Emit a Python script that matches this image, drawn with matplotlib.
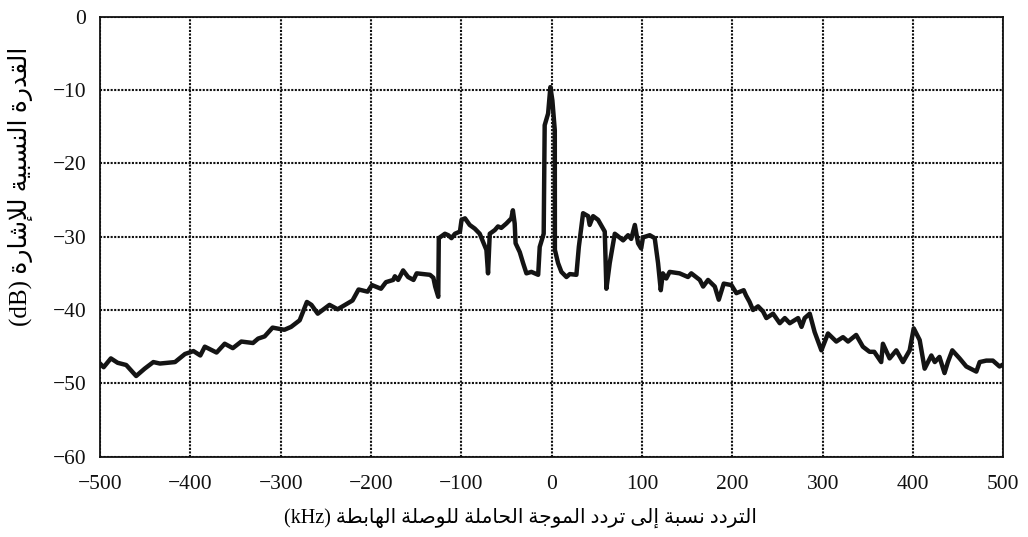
import matplotlib
matplotlib.use("Agg")
import matplotlib.pyplot as plt

# spectrum around the downlink carrier
freq_khz = [-500, -496, -488, -480.5, -471, -460, -450.6, -441, -433.7, -417, -406, -396.6,
            -389, -384, -371, -362, -353, -343.6, -330.7, -325, -317.8, -309, -296, -288.5,
            -279, -271, -266, -259, -246, -237, -220.5, -213.8, -203.8, -199, -189, -183.5,
            -175.5, -173.6, -170, -164.5, -159, -153, -149.5, -134.8, -131, -129, -125.6,
            -125, -118.2, -114.5, -111, -107.1, -101.6, -99.8, -96, -90.8, -85.2, -79.7,
            -72.3, -70.5, -68.6, -63, -59.5, -55.8, -50.2, -44.7, -43, -41, -40, -35.4,
            -31.7, -28, -22.5, -15, -13.3, -8.9, -7.8, -4, -1.5, 0.7, 3.4, 3.5, 7, 10.7,
            16.3, 20, 27.3, 30, 34.7, 40.3, 42, 45.8, 51.3, 58.7, 60.5, 64.2, 69.8, 72, 79,
            84.5, 88, 92, 95.6, 99, 101, 108.5, 114, 117.7, 120.7, 123, 126.8, 130.5, 141.5,
            150.8, 154.5, 163.9, 167.6, 173, 180.5, 184.9, 190.4, 198.9, 204.4, 212.5, 215,
            219, 222.8, 228.4, 233.9, 237.6, 245, 252.4, 258, 263.5, 272.7, 276.5, 280,
            285.6, 291, 298.5, 305.8, 315, 322.4, 328, 337, 344.4, 351.8, 357, 364.7, 366.6,
            374, 381.4, 388.8, 396.2, 400.7, 407.3, 412.8, 420.2, 424, 429.2, 434.8, 438.5,
            443.4, 451.5, 458.9, 470, 473.7, 481, 488.3, 495.7, 500]
power_db = [-47.3, -47.8, -46.6, -47.2, -47.5, -49.0, -48.0, -47.1, -47.3, -47.1, -46.0, -45.6,
            -46.2, -45.0, -45.8, -44.6, -45.2, -44.3, -44.5, -43.9, -43.6, -42.4, -42.7, -42.3,
            -41.4, -38.9, -39.3, -40.5, -39.3, -39.9, -38.7, -37.2, -37.5, -36.6, -37.1, -36.2,
            -35.9, -35.4, -35.9, -34.6, -35.5, -35.9, -35.0, -35.2, -35.6, -36.8, -38.2,
            -30.2, -29.6, -29.8, -30.2, -29.6, -29.3, -27.7, -27.5, -28.4, -28.9, -29.6,
            -31.8, -35.0, -29.6, -29.1, -28.6, -28.8, -28.2, -27.5, -26.4, -28.2, -30.9, -32.1,
            -33.6, -35.0, -34.8, -35.2, -31.4, -29.6, -14.8, -13.2, -9.6, -11.4, -15.5, -31.8,
            -33.6, -34.8, -35.5, -35.1, -35.2, -31.4, -26.8, -27.2, -28.4, -27.2, -27.7, -29.3,
            -37.1, -33.6, -29.6, -29.8, -30.5, -29.8, -30.3, -28.4, -30.9, -31.6, -30.1, -29.8,
            -30.2, -33.6, -37.3, -35.0, -35.7, -34.8, -35.0, -35.5, -35.0, -35.9, -36.8, -35.9,
            -36.8, -38.6, -36.4, -36.6, -37.7, -37.3, -38.0, -38.9, -40.0, -39.5, -40.2, -41.1,
            -40.5, -41.8, -41.1, -41.8, -41.1, -42.3, -41.1, -40.5, -43.0, -45.5, -43.2, -44.3,
            -43.7, -44.3, -43.4, -45.0, -45.7, -45.7, -47.1, -44.6, -46.6, -45.5, -47.1, -45.5,
            -42.5, -44.1, -48.0, -46.2, -47.1, -46.4, -48.6, -47.1, -45.5, -46.6, -47.7, -48.4,
            -47.1, -46.9, -46.9, -47.7, -47.4]

x_ticks = [-500, -400, -300, -200, -100, 0, 100, 200, 300, 400, 500]
y_ticks = [0, -10, -20, -30, -40, -50, -60]

x_label_ar = "التردد نسبة إلى تردد الموجة الحاملة للوصلة الهابطة"
y_label_ar = "القدرة النسبية للإشارة"

# matplotlib has no Arabic shaping, so pick presentation forms by hand
# forms: isolated, final, initial, medial (None = letter only joins to the right)
FORMS = {
    "ا": ("\uFE8D", "\uFE8E", None, None),
    "إ": ("\uFE87", "\uFE88", None, None),
    "ب": ("\uFE8F", "\uFE90", "\uFE91", "\uFE92"),
    "ة": ("\uFE93", "\uFE94", None, None),
    "ت": ("\uFE95", "\uFE96", "\uFE97", "\uFE98"),
    "ج": ("\uFE9D", "\uFE9E", "\uFE9F", "\uFEA0"),
    "ح": ("\uFEA1", "\uFEA2", "\uFEA3", "\uFEA4"),
    "د": ("\uFEA9", "\uFEAA", None, None),
    "ر": ("\uFEAD", "\uFEAE", None, None),
    "س": ("\uFEB1", "\uFEB2", "\uFEB3", "\uFEB4"),
    "ش": ("\uFEB5", "\uFEB6", "\uFEB7", "\uFEB8"),
    "ص": ("\uFEB9", "\uFEBA", "\uFEBB", "\uFEBC"),
    "ط": ("\uFEC1", "\uFEC2", "\uFEC3", "\uFEC4"),
    "ق": ("\uFED5", "\uFED6", "\uFED7", "\uFED8"),
    "ل": ("\uFEDD", "\uFEDE", "\uFEDF", "\uFEE0"),
    "م": ("\uFEE1", "\uFEE2", "\uFEE3", "\uFEE4"),
    "ن": ("\uFEE5", "\uFEE6", "\uFEE7", "\uFEE8"),
    "ه": ("\uFEE9", "\uFEEA", "\uFEEB", "\uFEEC"),
    "و": ("\uFEED", "\uFEEE", None, None),
    "ى": ("\uFEEF", "\uFEF0", None, None),
    "ي": ("\uFEF1", "\uFEF2", "\uFEF3", "\uFEF4"),
}
LAM_ALEF = {"ا": ("\uFEFB", "\uFEFC"), "إ": ("\uFEF9", "\uFEFA")}


def joins_left(ch):
    return ch in FORMS and FORMS[ch][2] is not None


def shape_word(word):
    out = []
    i = 0
    while i < len(word):
        ch = word[i]
        prev = word[i - 1] if i > 0 else ""
        link_prev = joins_left(prev)
        if ch == "ل" and i + 1 < len(word) and word[i + 1] in LAM_ALEF:
            iso, fin = LAM_ALEF[word[i + 1]]
            out.append(fin if link_prev else iso)
            i += 2
            continue
        nxt = word[i + 1] if i + 1 < len(word) else ""
        link_next = joins_left(ch) and nxt in FORMS
        iso, fin, ini, med = FORMS[ch]
        if link_prev and link_next:
            out.append(med)
        elif link_prev:
            out.append(fin)
        elif link_next:
            out.append(ini)
        else:
            out.append(iso)
        i += 1
    return "".join(out)


def visual_rtl(text):
    # shape each word, then lay out right to left
    return " ".join(shape_word(w)[::-1] for w in text.split(" ")[::-1])


fonts = ["Liberation Serif", "DejaVu Sans"]
plt.rcParams["font.family"] = fonts
plt.rcParams["axes.unicode_minus"] = True

fig = plt.figure(figsize=(10.28, 5.37), dpi=100)
ax = fig.add_axes([0.0973, 0.1496, 0.8788, 0.8193])

ax.plot(freq_khz, power_db, color="#141414", lw=3.2, solid_joinstyle="round")

ax.set_xlim(-500, 500)
ax.set_ylim(-60, 0)
ax.set_xticks(x_ticks)
ax.set_yticks(y_ticks)
ax.tick_params(length=0, labelsize=15.5, colors="#111111")
ax.tick_params(axis="y", pad=10)
ax.tick_params(axis="x", pad=13)

ax.grid(True, color="#111111", linestyle=(0, (1.0, 0.7)), linewidth=1.5)
for s in ax.spines.values():
    s.set_linewidth(1.3)
    s.set_color("#111111")

ax.set_xlabel("(kHz) " + visual_rtl(x_label_ar), fontsize=14.5, family=fonts)
ax.xaxis.set_label_coords(0.465, -0.115)
ax.set_ylabel("(dB) " + visual_rtl(y_label_ar), fontsize=18, family=fonts)
ax.yaxis.set_label_coords(-0.074, 0.614)

fig.savefig("out.png", dpi=100)
